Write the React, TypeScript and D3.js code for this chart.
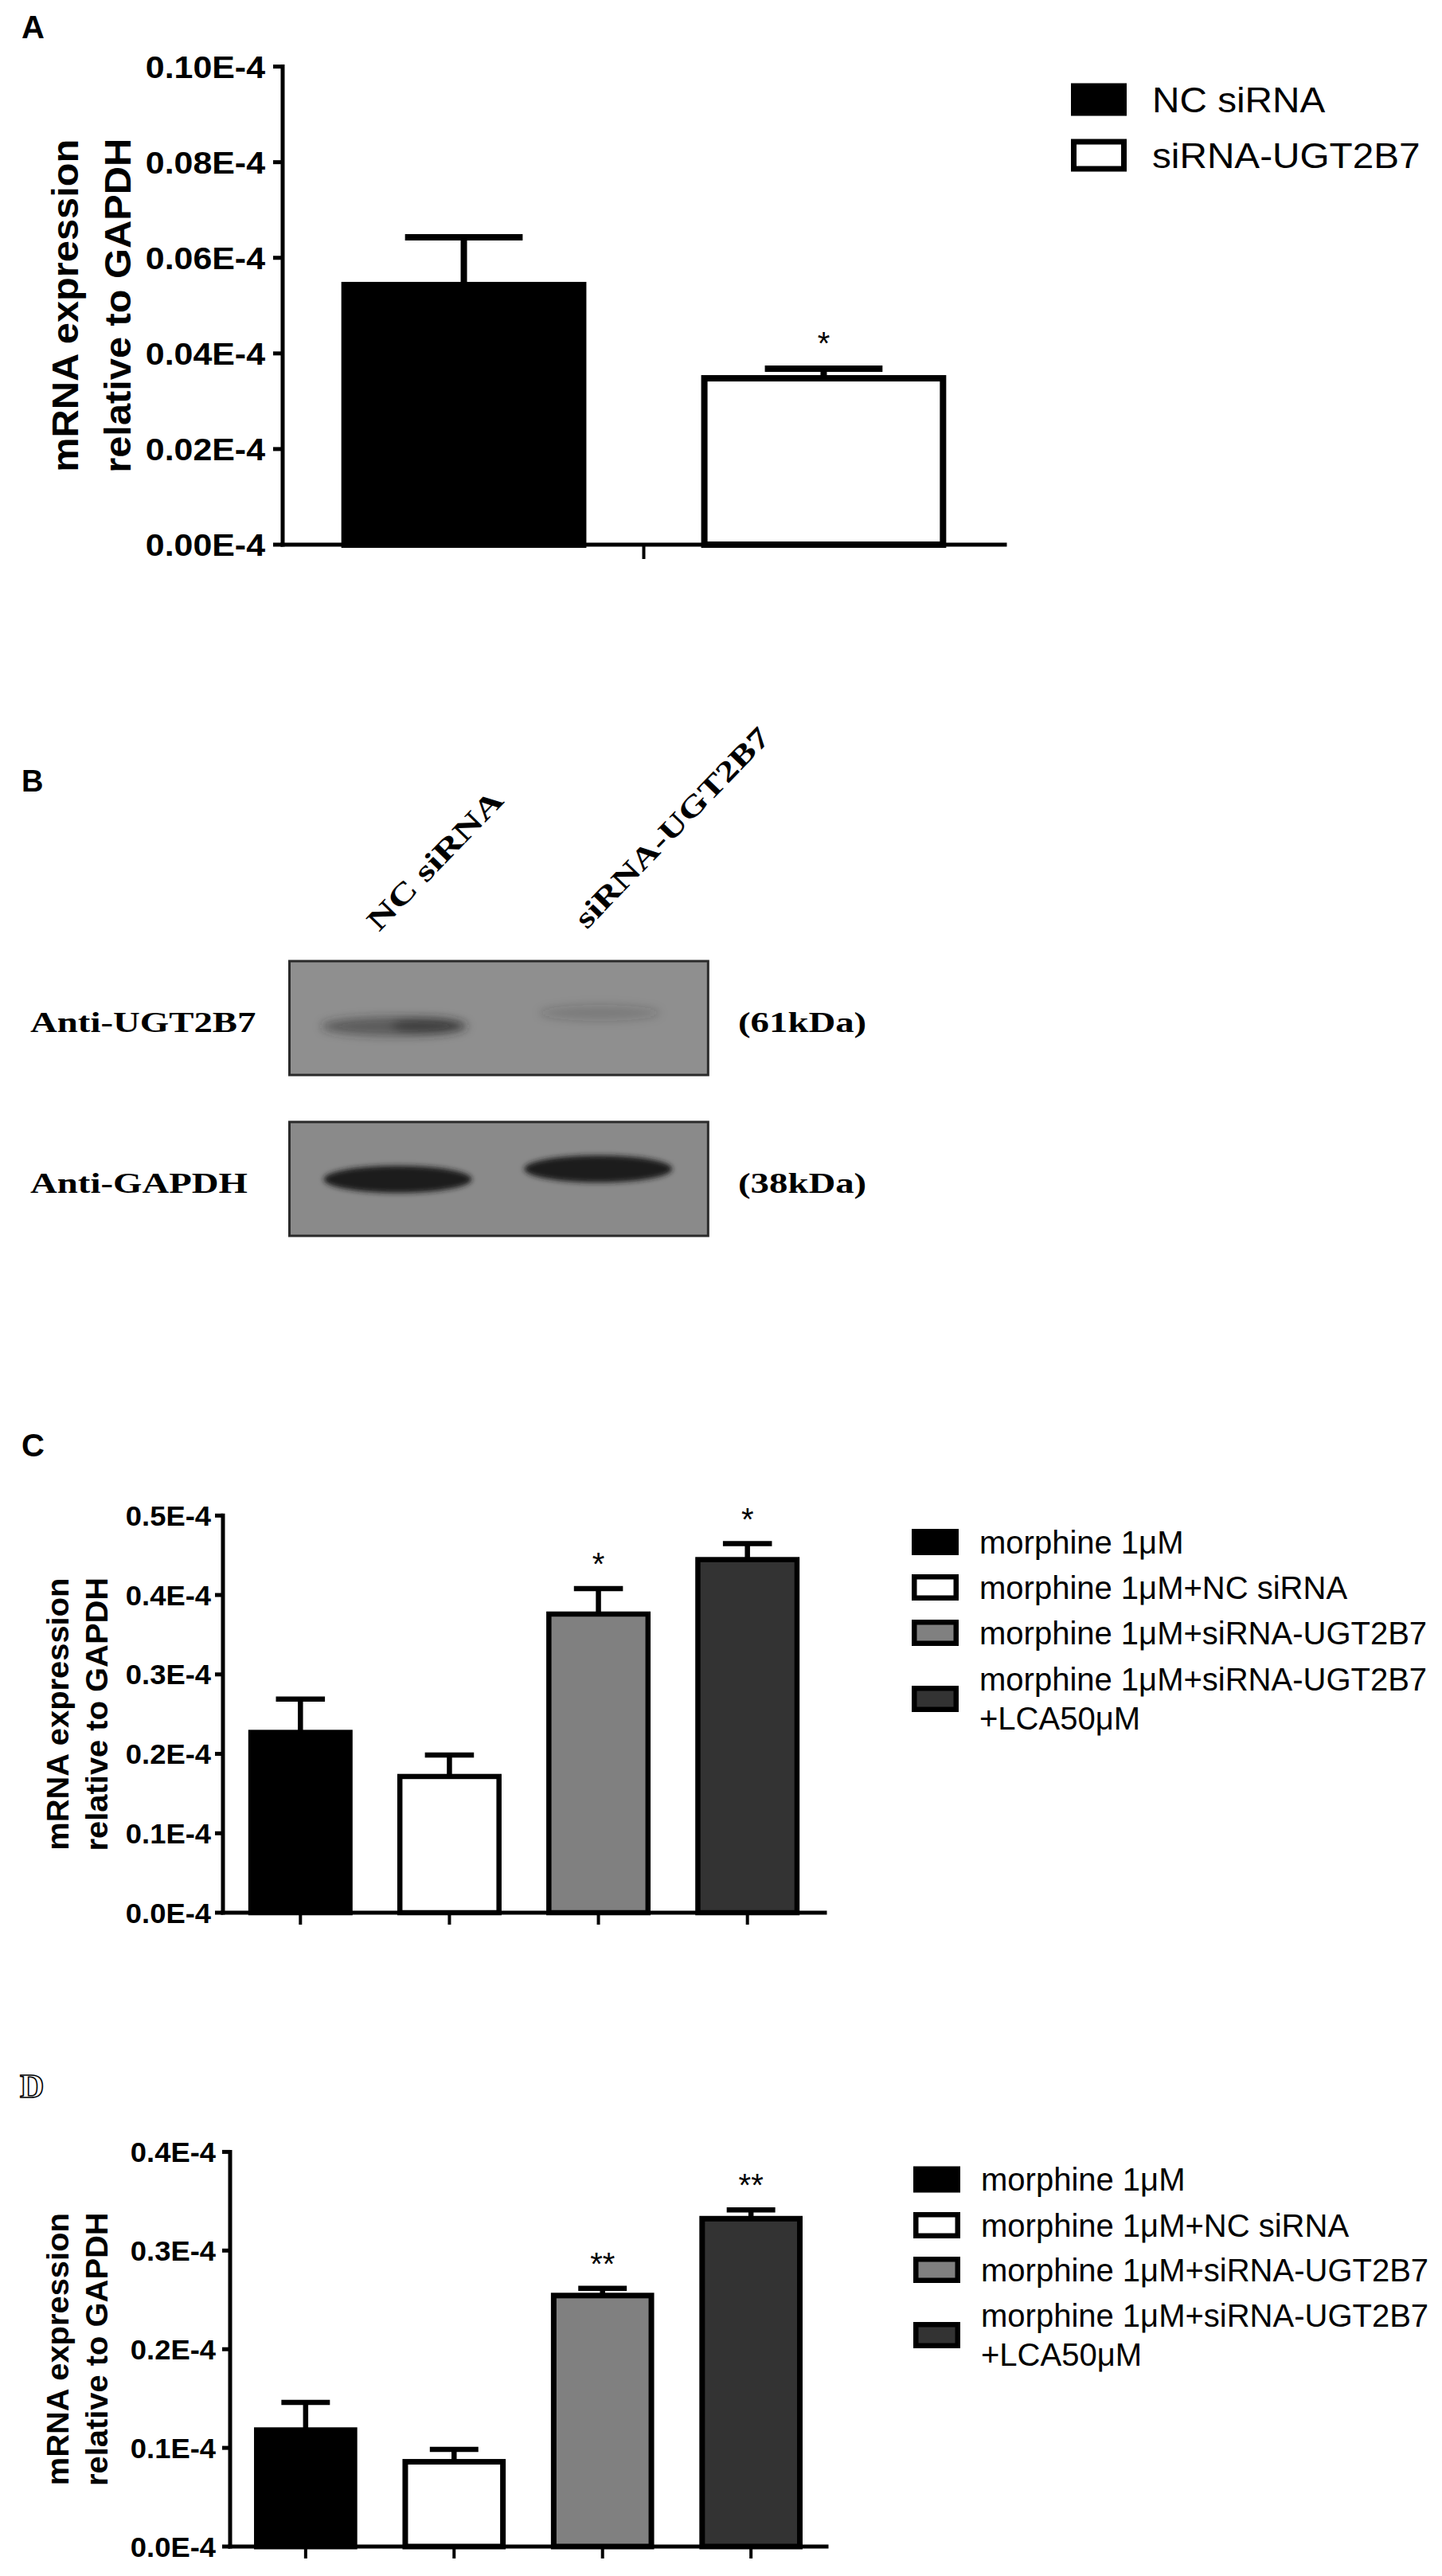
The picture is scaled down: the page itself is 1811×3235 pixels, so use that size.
import React, { useEffect } from "react";
import * as d3 from "d3";

const SANS = "'Liberation Sans', Arial, Helvetica, sans-serif";
const SERIF = "'Liberation Serif', 'Times New Roman', serif";

// ---------- Panel A data ----------
const aGroups = ["NC siRNA", "siRNA-UGT2B7"];
const aMeans = [0.0543, 0.0348];
const aErrors = [0.0100, 0.0020];
const aSig = ["", "*"];
const aFills = ["#000000", "#ffffff"];
const aTickValues = [0, 0.02, 0.04, 0.06, 0.08, 0.1];
const aTickLabels = ["0.00E-4", "0.02E-4", "0.04E-4", "0.06E-4", "0.08E-4", "0.10E-4"];

// ---------- Panel B data ----------
const blotLanes = ["NC siRNA", "siRNA-UGT2B7"];
const blotTargets = ["Anti-UGT2B7", "Anti-GAPDH"];
const blotSizes = ["(61kDa)", "(38kDa)"];
const ugtIntensity = [0.68, 0.25];
const gapdhIntensity = [1.0, 1.0];

// ---------- Panel C / D data ----------
const cdGroups = [
  "morphine 1μM",
  "morphine 1μM+NC siRNA",
  "morphine 1μM+siRNA-UGT2B7",
  "morphine 1μM+siRNA-UGT2B7\n+LCA50μM",
];
const cdFills = ["#000000", "#ffffff", "#808080", "#333333"];

const cMeans = [0.227, 0.1715, 0.376, 0.4446];
const cErrors = [0.042, 0.027, 0.032, 0.02];
const cSig = ["", "", "*", "*"];
const cTickValues = [0, 0.1, 0.2, 0.3, 0.4, 0.5];
const cTickLabels = ["0.0E-4", "0.1E-4", "0.2E-4", "0.3E-4", "0.4E-4", "0.5E-4"];

const dMeans = [0.118, 0.0859, 0.2544, 0.3323];
const dErrors = [0.028, 0.0125, 0.0074, 0.009];
const dSig = ["", "", "**", "**"];
const dTickValues = [0, 0.1, 0.2, 0.3, 0.4];
const dTickLabels = ["0.0E-4", "0.1E-4", "0.2E-4", "0.3E-4", "0.4E-4"];

const yTitle = ["mRNA expression", "relative to GAPDH"];

// ---------- layout ----------
const layoutA = {
  x0: 355, x1: 1262, y0: 684, yTop: 83.6, yMax: 0.1,
  padInner: 0.319, padOuter: 0.163,
  barStroke: 8, errStroke: 8, axisStroke: 5, yTickLen: 12, xTickLen: 18,
  capFrac: 0.48, tickFont: 39, tickSx: 1.1, tickLabelRight: 333,
  titleFont: 46, titleSx: 1.06, titleBaselines: [98, 164],
  sigFont: 40, sigGap: 18, xTickMode: "middle",
  legend: { x: 1345, w: 70, h: 41, tops: [104.5, 174.5], textX: 1447, font: 45, sx: 1.06, stroke: 7, lineGap: 49 },
};
const layoutC = {
  x0: 280, x1: 1036, y0: 2402, yTop: 1903.3, yMax: 0.5,
  padInner: 0.3, padOuter: 0.17,
  barStroke: 6.5, errStroke: 6.5, axisStroke: 5, yTickLen: 10, xTickLen: 15,
  capFrac: 0.47, tickFont: 35, tickSx: 1.04, tickLabelRight: 265,
  titleFont: 38, titleSx: 1.05, titleBaselines: [86, 135],
  sigFont: 40, sigGap: 17, xTickMode: "bars",
  legend: { x: 1145, w: 59, h: 33, tops: [1920, 1977, 2034, 2117], textX: 1230, font: 40, sx: 1.0, stroke: 6.5, lineGap: 49 },
};
const layoutD = {
  x0: 289, x1: 1038, y0: 3198, yTop: 2702.4, yMax: 0.4,
  padInner: 0.3045, padOuter: 0.161,
  barStroke: 7, errStroke: 6.5, axisStroke: 5, yTickLen: 10, xTickLen: 15,
  capFrac: 0.47, tickFont: 35, tickSx: 1.04, tickLabelRight: 271,
  titleFont: 38, titleSx: 1.05, titleBaselines: [86, 135],
  sigFont: 40, sigGap: 17, xTickMode: "bars",
  legend: { x: 1147, w: 59, h: 33, tops: [2720.5, 2778, 2834, 2916], textX: 1232, font: 40, sx: 1.0, stroke: 6.5, lineGap: 49 },
};

function SText(props: any) {
  const { x, y, rotate = 0, sx = 1, size, weight = "normal", family = SANS, anchor = "start", children, fill = "#000", stroke, strokeWidth } = props;
  return (
    <text
      transform={`translate(${x},${y}) rotate(${rotate}) scale(${sx},1)`}
      fontSize={size}
      fontWeight={weight}
      fontFamily={family}
      textAnchor={anchor}
      fill={fill}
      stroke={stroke}
      strokeWidth={strokeWidth}
    >
      {children}
    </text>
  );
}

function BarPanel(props: any) {
  const { L, groups, means, errors, sig, fills, tickValues, tickLabels } = props;
  const x = d3.scaleBand<string>().domain(groups).range([L.x0, L.x1]).paddingInner(L.padInner).paddingOuter(L.padOuter);
  const y = d3.scaleLinear().domain([0, L.yMax]).range([L.y0, L.yTop]);
  const bw = x.bandwidth();
  const midY = (L.y0 + L.yTop) / 2;
  const xTicks =
    L.xTickMode === "middle"
      ? [(L.x0 + L.x1) / 2]
      : groups.map((g: string) => (x(g) as number) + bw / 2);

  return (
    <g>
      {groups.map((g: string, i: number) => {
        const bx = x(g) as number;
        const top = y(means[i]);
        const sw = L.barStroke;
        return (
          <rect
            key={"bar" + i}
            x={bx + sw / 2}
            y={top}
            width={bw - sw}
            height={L.y0 - top}
            fill={fills[i]}
            stroke="#000"
            strokeWidth={sw}
          />
        );
      })}
      {groups.map((g: string, i: number) => {
        const cx = (x(g) as number) + bw / 2;
        const top = y(means[i]);
        const ey = y(means[i] + errors[i]);
        const cw = bw * L.capFrac;
        return (
          <g key={"err" + i} stroke="#000" strokeWidth={L.errStroke}>
            <line x1={cx} x2={cx} y1={top} y2={ey} />
            <line x1={cx - cw / 2} x2={cx + cw / 2} y1={ey} y2={ey} />
          </g>
        );
      })}
      {groups.map((g: string, i: number) =>
        sig[i] ? (
          <SText
            key={"sig" + i}
            x={(x(g) as number) + bw / 2}
            y={y(means[i] + errors[i]) - L.sigGap}
            size={L.sigFont}
            anchor="middle"
          >
            {sig[i]}
          </SText>
        ) : null
      )}
      <line x1={L.x0} x2={L.x0} y1={L.y0} y2={L.yTop} stroke="#000" strokeWidth={L.axisStroke} strokeLinecap="square" />
      <line x1={L.x0} x2={L.x1} y1={L.y0} y2={L.y0} stroke="#000" strokeWidth={L.axisStroke} strokeLinecap="square" />
      {tickValues.map((v: number, i: number) => (
        <g key={"yt" + i}>
          <line x1={L.x0 - L.yTickLen} x2={L.x0} y1={y(v)} y2={y(v)} stroke="#000" strokeWidth={L.axisStroke} />
          <SText x={L.tickLabelRight} y={y(v) + L.tickFont * 0.36} size={L.tickFont} weight="bold" sx={L.tickSx} anchor="end">
            {tickLabels[i]}
          </SText>
        </g>
      ))}
      {xTicks.map((tx: number, i: number) => (
        <line key={"xt" + i} x1={tx} x2={tx} y1={L.y0} y2={L.y0 + L.xTickLen} stroke="#000" strokeWidth={4} />
      ))}
      {yTitle.map((t, i) => (
        <SText key={"tt" + i} x={L.titleBaselines[i]} y={midY} rotate={-90} sx={L.titleSx} size={L.titleFont} weight="bold" anchor="middle">
          {t}
        </SText>
      ))}
      {groups.map((g: string, i: number) => {
        const lg = L.legend;
        const top = lg.tops[i];
        const cy = top + lg.h / 2;
        const lines = g.split("\n");
        const isBlack = fills[i] === "#000000";
        return (
          <g key={"lg" + i}>
            {isBlack ? (
              <rect x={lg.x} y={top} width={lg.w} height={lg.h} fill="#000" />
            ) : (
              <rect
                x={lg.x + lg.stroke / 2}
                y={top + lg.stroke / 2}
                width={lg.w - lg.stroke}
                height={lg.h - lg.stroke}
                fill={fills[i]}
                stroke="#000"
                strokeWidth={lg.stroke}
              />
            )}
            {lines.length === 1 ? (
              <SText x={lg.textX} y={cy + lg.font * 0.35} size={lg.font} sx={lg.sx}>
                {lines[0]}
              </SText>
            ) : (
              lines.map((ln: string, k: number) => (
                <SText key={k} x={lg.textX} y={cy + lg.font * 0.35 + (k - 0.5) * lg.lineGap} size={lg.font} sx={lg.sx}>
                  {ln}
                </SText>
              ))
            )}
          </g>
        );
      })}
    </g>
  );
}

function BlotPanel() {
  const boxX0 = 363.5;
  const boxX1 = 889.3;
  const boxes = [
    { y: 1207, h: 143, fill: "#8f8f8f" },
    { y: 1409, h: 143, fill: "#8a8a8a" },
  ];
  const lane = d3.scalePoint<string>().domain(blotLanes).range([boxX0, boxX1]).padding(0.52);
  const ugtY = [1289, 1272];
  const gapY = [1481, 1468];
  const labelBaselines = [1296, 1498];
  const laneLabelPos = [
    { x: 476, y: 1171 },
    { x: 737, y: 1168 },
  ];
  return (
    <g>
      <defs>
        <filter id="blurBand" x="-30%" y="-100%" width="160%" height="300%">
          <feGaussianBlur stdDeviation="6" />
        </filter>
        <filter id="blurBand2" x="-30%" y="-100%" width="160%" height="300%">
          <feGaussianBlur stdDeviation="3" />
        </filter>
      </defs>
      {boxes.map((b, i) => (
        <rect key={i} x={boxX0} y={b.y} width={boxX1 - boxX0} height={b.h} fill={b.fill} stroke="#2a2a2a" strokeWidth={3} />
      ))}
      {blotLanes.map((l, i) => {
        const cx = lane(l) as number;
        const a = ugtIntensity[i];
        return (
          <g key={"u" + i} filter="url(#blurBand)">
            <ellipse cx={cx - 2} cy={ugtY[i]} rx={i === 0 ? 92 : 76} ry={i === 0 ? 12 : 10} fill="#2a2a2a" opacity={a * 0.75} />
            {i === 0 && <ellipse cx={cx + 40} cy={ugtY[i] - 1} rx={46} ry={10} fill="#1a1a1a" opacity={a * 0.7} />}
          </g>
        );
      })}
      {blotLanes.map((l, i) => {
        const cx = lane(l) as number;
        return (
          <g key={"g" + i} filter="url(#blurBand2)">
            <ellipse cx={cx + (i === 0 ? 2 : -4)} cy={gapY[i]} rx={93} ry={17} fill="#1c1c1c" opacity={gapdhIntensity[i]} />
          </g>
        );
      })}
      {blotTargets.map((t, i) => (
        <SText key={"t" + i} x={38} y={labelBaselines[i]} size={36} sx={1.3} weight="bold" family={SERIF}>
          {t}
        </SText>
      ))}
      {blotSizes.map((t, i) => (
        <SText key={"s" + i} x={927} y={labelBaselines[i]} size={36} sx={1.3} weight="bold" family={SERIF}>
          {t}
        </SText>
      ))}
      {blotLanes.map((l, i) => (
        <SText key={"l" + i} x={laneLabelPos[i].x} y={laneLabelPos[i].y} rotate={-46} size={37} sx={i === 0 ? 1.36 : 1.29} weight="bold" family={SERIF}>
          {l}
        </SText>
      ))}
    </g>
  );
}

export default function App() {
  useEffect(() => {
    document.body.style.margin = "0";
  }, []);
  return (
    <svg
      width={1811}
      height={3235}
      viewBox="0 0 1811 3235"
      style={{ position: "absolute", left: 0, top: 0, display: "block", background: "#fff" }}
    >
      <rect x={0} y={0} width={1811} height={3235} fill="#fff" />
      <SText x={27} y={48} size={40} weight="bold">A</SText>
      <SText x={27} y={994} size={38} weight="bold">B</SText>
      <SText x={27} y={1829} size={40} weight="bold">C</SText>
      <SText x={25} y={2634} size={42} weight="bold" family={SERIF} fill="#fff" stroke="#000" strokeWidth={1.6}>D</SText>

      <BarPanel
        L={layoutA}
        groups={aGroups}
        means={aMeans}
        errors={aErrors}
        sig={aSig}
        fills={aFills}
        tickValues={aTickValues}
        tickLabels={aTickLabels}
      />
      <BlotPanel />
      <BarPanel
        L={layoutC}
        groups={cdGroups}
        means={cMeans}
        errors={cErrors}
        sig={cSig}
        fills={cdFills}
        tickValues={cTickValues}
        tickLabels={cTickLabels}
      />
      <BarPanel
        L={layoutD}
        groups={cdGroups}
        means={dMeans}
        errors={dErrors}
        sig={dSig}
        fills={cdFills}
        tickValues={dTickValues}
        tickLabels={dTickLabels}
      />
    </svg>
  );
}
